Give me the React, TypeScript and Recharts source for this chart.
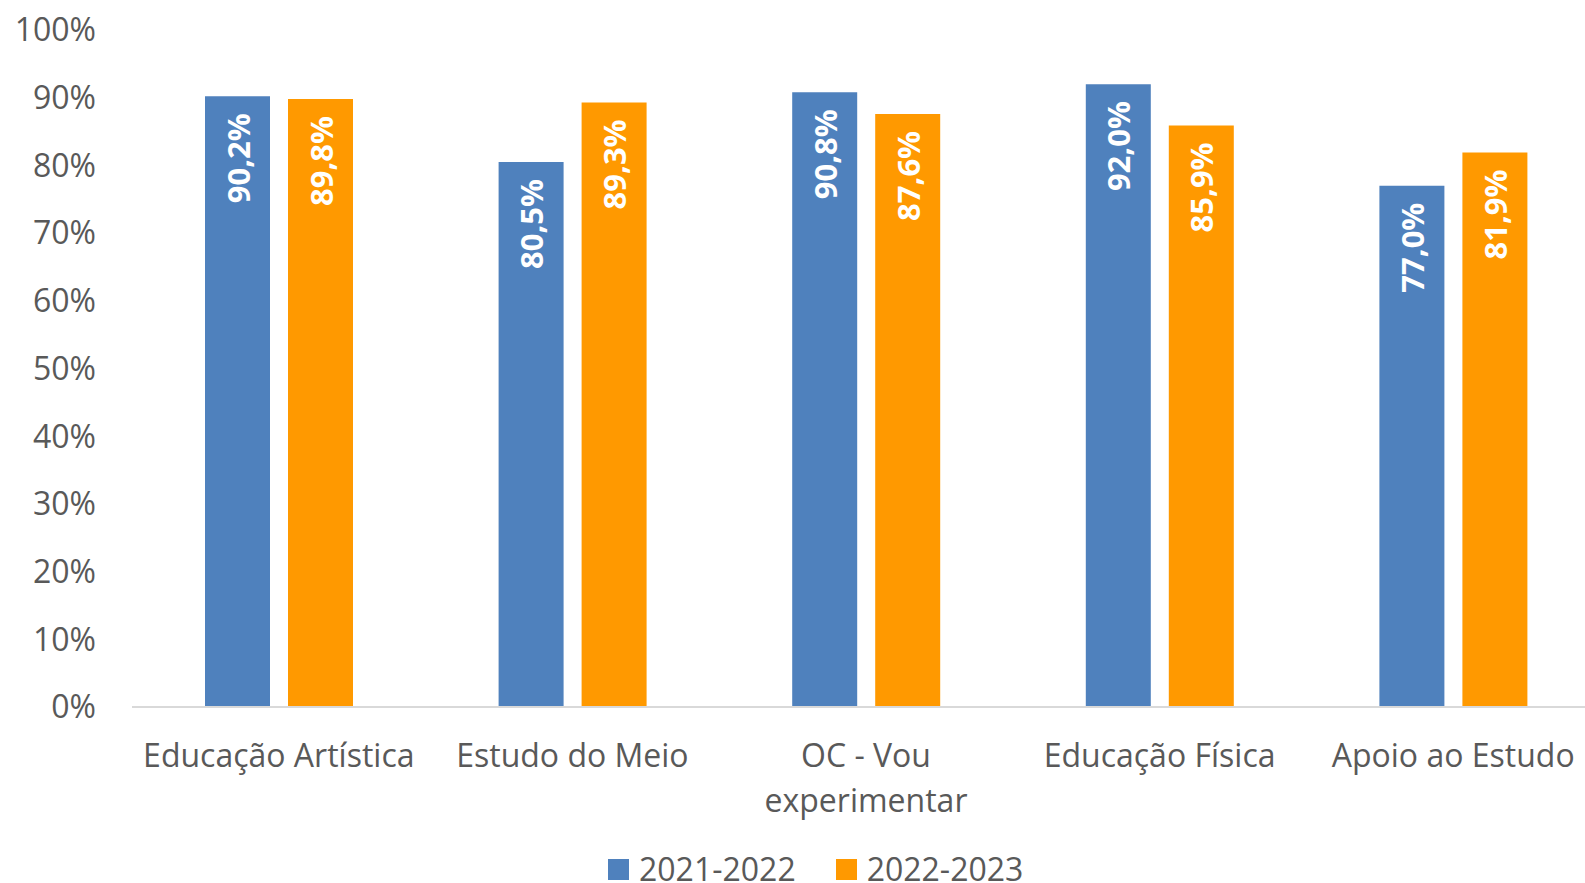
import React from 'react';
import { BarChart, Bar, XAxis, YAxis, Legend, LabelList } from 'recharts';

const categories = ['Educação Artística', 'Estudo do Meio', 'OC - Vou experimentar', 'Educação Física', 'Apoio ao Estudo'];
const values2122 = [90.2, 80.5, 90.8, 92.0, 77.0];
const values2223 = [89.8, 89.3, 87.6, 85.9, 81.9];
const yTicks = [0, 10, 20, 30, 40, 50, 60, 70, 80, 90, 100];
const seriesNames = ['2021-2022', '2022-2023'];

const BLUE = '#4f81bd';
const ORANGE = '#ff9900';
const FONT = '"Open Sans", sans-serif';
const GREY = '#595959';
const TICK_FONT_SIZE = 32;

const data = categories.map((name, i) => ({
    name,
    a: values2122[i],
    b: values2223[i],
}));

const formatPct = (v: number) => `${v.toFixed(1).replace('.', ',')}%`;

// split a label into lines that fit the category width
const wrapLabel = (label: string, maxWidth: number): string[] => {
    const canvas = document.createElement('canvas');
    const ctx = canvas.getContext('2d');
    if (!ctx) return [label];
    ctx.font = `${TICK_FONT_SIZE}px ${FONT}`;
    const words = label.split(' ');
    const lines: string[] = [];
    let current = '';
    words.forEach((w) => {
        const test = current ? `${current} ${w}` : w;
        if (current && ctx.measureText(test).width > maxWidth) {
            lines.push(current);
            current = w;
        } else {
            current = test;
        }
    });
    if (current) lines.push(current);
    return lines;
};

const BarValueLabel = (props: any) => {
    const x = Number(props.x);
    const y = Number(props.y);
    const width = Number(props.width);
    return (
        <text
            x={0}
            y={0}
            transform={`translate(${x + width / 2}, ${y + 17}) rotate(-90)`}
            textAnchor="end"
            dominantBaseline="central"
            fill="#ffffff"
            fontSize={31}
            fontWeight="bold"
            fontFamily={FONT}
        >
            {formatPct(Number(props.value))}
        </text>
    );
};

const CategoryTick = (props: any) => {
    const { x, y, payload } = props;
    const lines = wrapLabel(String(payload.value), 288);
    return (
        <text x={x} y={y + 60} textAnchor="middle" fill={GREY} fontSize={TICK_FONT_SIZE} fontFamily={FONT}>
            {lines.map((line, i) => (
                <tspan key={i} x={x} dy={i === 0 ? 0 : 45}>
                    {line}
                </tspan>
            ))}
        </text>
    );
};

const LegendContent = () => (
    <div style={{ display: 'flex', alignItems: 'center', height: 36, paddingLeft: 608, fontFamily: FONT, fontSize: 32, color: GREY }}>
        {seriesNames.map((s, i) => (
            <div key={s} style={{ display: 'flex', alignItems: 'center', marginRight: 40 }}>
                <span style={{ display: 'inline-block', width: 21, height: 21, background: i === 0 ? BLUE : ORANGE, marginRight: 10 }} />
                <span style={{ lineHeight: '36px' }}>{s}</span>
            </div>
        ))}
    </div>
);

export default function App() {
    return (
        <div style={{ position: 'fixed', left: 0, top: 0, width: 1585, height: 883, background: '#fff', overflow: 'hidden' }}>
            <BarChart
                width={1600}
                height={883}
                data={data}
                margin={{ top: 30, right: 0, left: 0, bottom: 0 }}
                barGap={18}
                barSize={65}
            >
                <XAxis
                    dataKey="name"
                    height={140}
                    axisLine={{ stroke: '#d9d9d9', strokeWidth: 2 }}
                    tickLine={false}
                    tickSize={0}
                    tickMargin={0}
                    interval={0}
                    tick={<CategoryTick />}
                />
                <YAxis
                    domain={[0, 100]}
                    ticks={yTicks}
                    tickFormatter={(v) => `${v}%`}
                    axisLine={false}
                    tickLine={false}
                    tickSize={0}
                    tickMargin={36}
                    width={132}
                    interval={0}
                    tick={{ fill: GREY, fontSize: 32, fontFamily: FONT }}
                />
                <Legend
                    verticalAlign="bottom"
                    content={<LegendContent />}
                    wrapperStyle={{ left: 0, bottom: -4, width: 1585 }}
                />
                <Bar dataKey="a" name={seriesNames[0]} fill={BLUE} isAnimationActive={false}>
                    <LabelList dataKey="a" content={<BarValueLabel />} />
                </Bar>
                <Bar dataKey="b" name={seriesNames[1]} fill={ORANGE} isAnimationActive={false}>
                    <LabelList dataKey="b" content={<BarValueLabel />} />
                </Bar>
            </BarChart>
        </div>
    );
}
